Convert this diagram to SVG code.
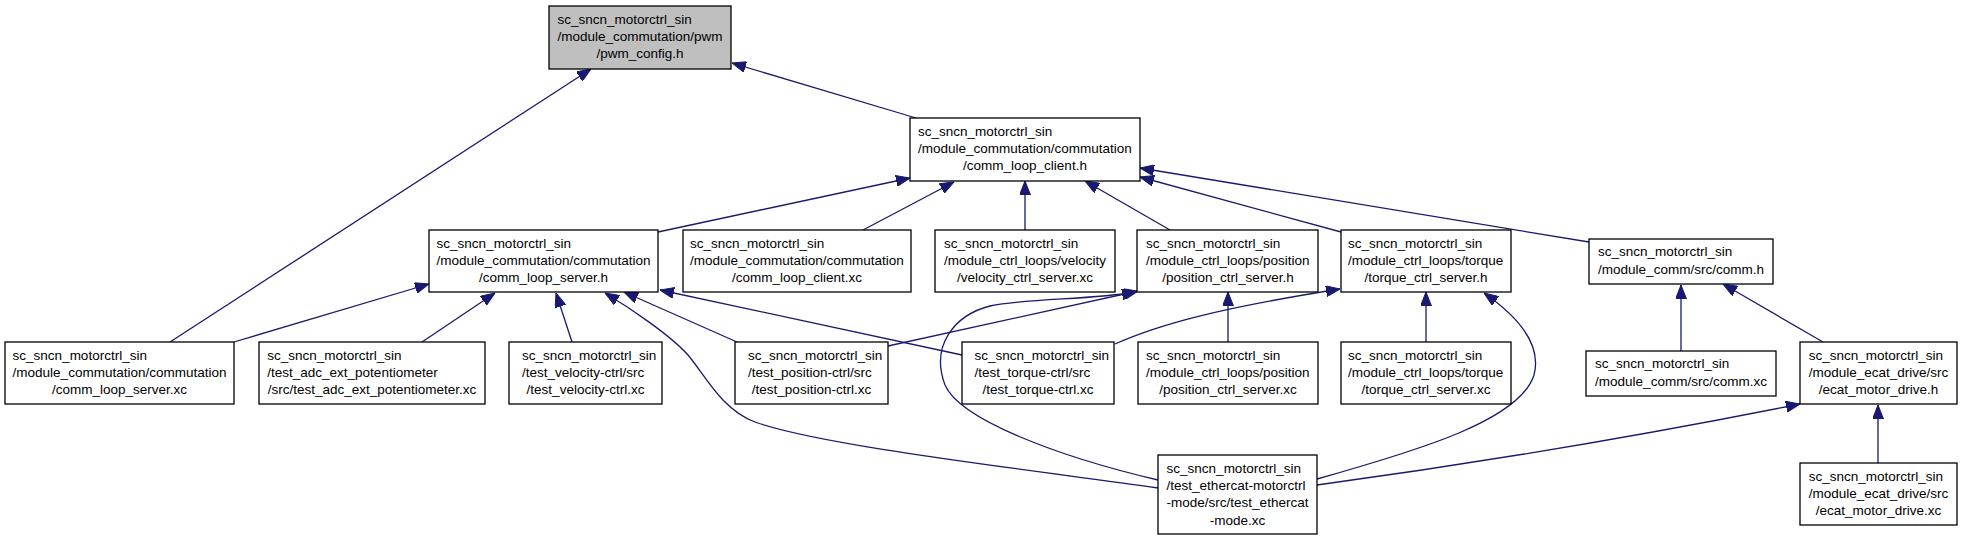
<svg xmlns="http://www.w3.org/2000/svg" width="1963" height="541" viewBox="0 0 1963 541">
<style>
.n rect{fill:#fff;stroke:#000;stroke-width:1.3}
.n.g rect{fill:#bfbfbf}
text{font-family:"Liberation Sans",Arial,sans-serif;font-size:13.5px;fill:#000}
.c{text-anchor:middle}
.e path{fill:none;stroke:#191970;stroke-width:1.3;marker-end:url(#ah)}
</style>
<defs>
<marker id="ah" markerUnits="userSpaceOnUse" viewBox="0 0 14 11" markerWidth="14" markerHeight="11" refX="14" refY="5.5" orient="auto">
<path d="M0,0 L14,5.5 L0,11 Z" fill="#191970" stroke="#191970" stroke-width="1"/>
</marker>
</defs>
<rect width="1963" height="541" fill="#fff"/>
<g class="e" id="edges">
<path d="M916,118 L732,63"/>
<path d="M170,342 L591,69"/>
<path d="M658,232 L910,178"/>
<path d="M863,230 L954,182"/>
<path d="M1025,230 L1025,181"/>
<path d="M1170,230 L1085,181"/>
<path d="M1341,232 L1140,177"/>
<path d="M1589,242 L1140,168"/>
<path d="M234,342 L429,284"/>
<path d="M422,342 L495,293"/>
<path d="M572,342 L556,293"/>
<path d="M737,342 L624,292"/>
<path d="M962,355 L660,290"/>
<path d="M1158,488 C1000,466 820,445 755,422 C722,410 705,375 688,355 C670,335 630,308 605,293"/>
<path d="M888,346 L1138,291"/>
<path d="M1158,480 C1060,457 960,420 945,385 C930,345 955,315 990,306 C1030,298 1090,300 1136,292"/>
<path d="M1228,342 L1228,292"/>
<path d="M1115,344 C1160,324 1220,308 1340,289"/>
<path d="M1426,342 L1426,292"/>
<path d="M1317,479 C1420,450 1520,420 1534,375 C1542,345 1520,318 1484,293"/>
<path d="M1317,485 Q1560,452 1800,404"/>
<path d="M1681,351 L1681,285"/>
<path d="M1823,342 L1723,284"/>
<path d="M1878,463 L1878,405"/>
</g>
<g class="n g" id="pwm_config_h">
<rect x="549" y="6" width="182" height="63"/>
<text x="557.5" y="23.5">sc_sncn_motorctrl_sin</text>
<text x="557.5" y="40.9">/module_commutation/pwm</text>
<text class="c" x="640" y="58.3">/pwm_config.h</text>
</g>
<g class="n" id="comm_loop_client_h">
<rect x="910" y="118" width="230" height="63"/>
<text x="918" y="135.5">sc_sncn_motorctrl_sin</text>
<text x="918" y="152.9">/module_commutation/commutation</text>
<text class="c" x="1025" y="170.3">/comm_loop_client.h</text>
</g>
<g class="n" id="comm_loop_server_h">
<rect x="429" y="230" width="229" height="62"/>
<text x="436.6" y="247.5">sc_sncn_motorctrl_sin</text>
<text x="436.6" y="264.9">/module_commutation/commutation</text>
<text class="c" x="543.5" y="282.3">/comm_loop_server.h</text>
</g>
<g class="n" id="comm_loop_client_xc">
<rect x="683" y="230" width="228" height="62"/>
<text x="690" y="247.5">sc_sncn_motorctrl_sin</text>
<text x="690" y="264.9">/module_commutation/commutation</text>
<text class="c" x="797" y="282.3">/comm_loop_client.xc</text>
</g>
<g class="n" id="velocity_ctrl_server_xc">
<rect x="935" y="230" width="180" height="62"/>
<text x="944" y="247.5">sc_sncn_motorctrl_sin</text>
<text x="944" y="264.9">/module_ctrl_loops/velocity</text>
<text class="c" x="1025" y="282.3">/velocity_ctrl_server.xc</text>
</g>
<g class="n" id="position_ctrl_server_h">
<rect x="1137" y="230" width="181" height="62"/>
<text x="1146" y="247.5">sc_sncn_motorctrl_sin</text>
<text x="1146" y="264.9">/module_ctrl_loops/position</text>
<text class="c" x="1228" y="282.3">/position_ctrl_server.h</text>
</g>
<g class="n" id="torque_ctrl_server_h">
<rect x="1341" y="230" width="170" height="62"/>
<text x="1348" y="247.5">sc_sncn_motorctrl_sin</text>
<text x="1348" y="264.9">/module_ctrl_loops/torque</text>
<text class="c" x="1426" y="282.3">/torque_ctrl_server.h</text>
</g>
<g class="n" id="comm_h">
<rect x="1589" y="239" width="184" height="45"/>
<text x="1598" y="256.3">sc_sncn_motorctrl_sin</text>
<text class="c" x="1681" y="273.5">/module_comm/src/comm.h</text>
</g>
<g class="n" id="comm_loop_server_xc">
<rect x="5" y="342" width="229" height="62"/>
<text x="12.6" y="359.5">sc_sncn_motorctrl_sin</text>
<text x="12.6" y="376.9">/module_commutation/commutation</text>
<text class="c" x="119.5" y="394.3">/comm_loop_server.xc</text>
</g>
<g class="n" id="test_adc_ext_potentiometer_xc">
<rect x="259" y="342" width="226" height="62"/>
<text x="267.3" y="359.5">sc_sncn_motorctrl_sin</text>
<text x="267.3" y="376.9">/test_adc_ext_potentiometer</text>
<text class="c" x="372" y="394.3">/src/test_adc_ext_potentiometer.xc</text>
</g>
<g class="n" id="test_velocity_ctrl_xc">
<rect x="509" y="342" width="153" height="62"/>
<text x="522" y="359.5">sc_sncn_motorctrl_sin</text>
<text x="522" y="376.9">/test_velocity-ctrl/src</text>
<text class="c" x="585.5" y="394.3">/test_velocity-ctrl.xc</text>
</g>
<g class="n" id="test_position_ctrl_xc">
<rect x="735" y="342" width="153" height="62"/>
<text x="748" y="359.5">sc_sncn_motorctrl_sin</text>
<text x="748" y="376.9">/test_position-ctrl/src</text>
<text class="c" x="811.5" y="394.3">/test_position-ctrl.xc</text>
</g>
<g class="n" id="test_torque_ctrl_xc">
<rect x="962" y="342" width="152" height="62"/>
<text x="974.6" y="359.5">sc_sncn_motorctrl_sin</text>
<text x="974.6" y="376.9">/test_torque-ctrl/src</text>
<text class="c" x="1038" y="394.3">/test_torque-ctrl.xc</text>
</g>
<g class="n" id="position_ctrl_server_xc">
<rect x="1138" y="342" width="180" height="62"/>
<text x="1146" y="359.5">sc_sncn_motorctrl_sin</text>
<text x="1146" y="376.9">/module_ctrl_loops/position</text>
<text class="c" x="1228" y="394.3">/position_ctrl_server.xc</text>
</g>
<g class="n" id="torque_ctrl_server_xc">
<rect x="1341" y="342" width="170" height="62"/>
<text x="1348" y="359.5">sc_sncn_motorctrl_sin</text>
<text x="1348" y="376.9">/module_ctrl_loops/torque</text>
<text class="c" x="1426" y="394.3">/torque_ctrl_server.xc</text>
</g>
<g class="n" id="comm_xc">
<rect x="1586" y="351" width="190" height="45"/>
<text x="1595" y="368.3">sc_sncn_motorctrl_sin</text>
<text class="c" x="1681" y="385.5">/module_comm/src/comm.xc</text>
</g>
<g class="n" id="ecat_motor_drive_h">
<rect x="1800" y="342" width="157" height="62"/>
<text x="1808.7" y="359.5">sc_sncn_motorctrl_sin</text>
<text x="1808.7" y="376.9">/module_ecat_drive/src</text>
<text class="c" x="1878.5" y="394.3">/ecat_motor_drive.h</text>
</g>
<g class="n" id="test_ethercat_mode_xc">
<rect x="1158" y="455" width="159" height="79"/>
<text x="1166.6" y="472.5">sc_sncn_motorctrl_sin</text>
<text x="1166.6" y="489.9">/test_ethercat-motorctrl</text>
<text x="1166.6" y="507.3">-mode/src/test_ethercat</text>
<text class="c" x="1237.5" y="524.7">-mode.xc</text>
</g>
<g class="n" id="ecat_motor_drive_xc">
<rect x="1800" y="463" width="157" height="62"/>
<text x="1808.7" y="480.5">sc_sncn_motorctrl_sin</text>
<text x="1808.7" y="497.9">/module_ecat_drive/src</text>
<text class="c" x="1878.5" y="515.3">/ecat_motor_drive.xc</text>
</g>
</svg>
